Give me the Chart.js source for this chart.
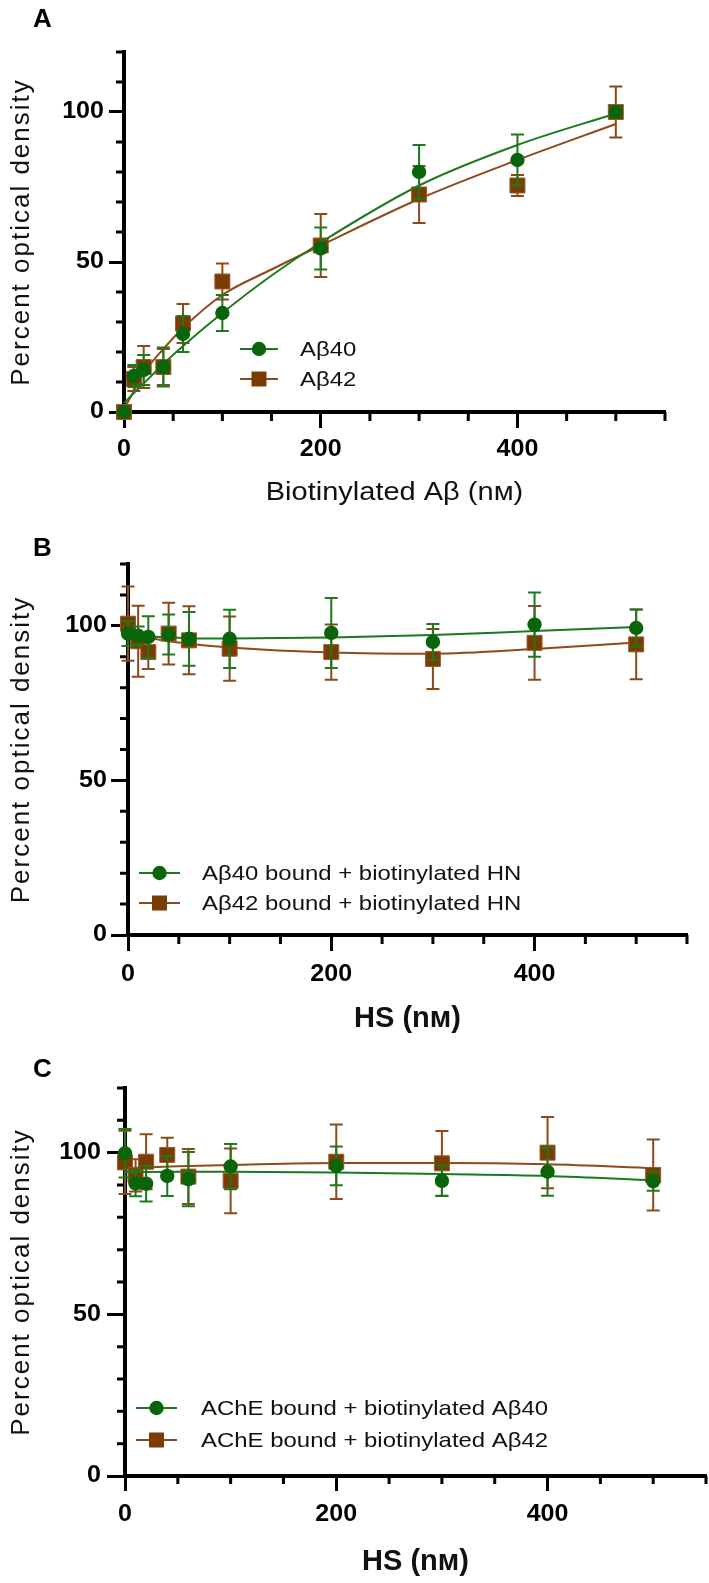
<!DOCTYPE html>
<html>
<head>
<meta charset="utf-8">
<script src="https://cdn.jsdelivr.net/npm/chart.js@4.4.1/dist/chart.umd.min.js"></script>
<style>
    html, body { margin: 0; padding: 0; background: #fff; }
    body { width: 709px; height: 1583px; position: relative; overflow: hidden; }
    .painel { position: absolute; left: 0; width: 709px; }
    canvas { display: block; }
</style>
</head>
<body>
<div class="painel" style="top:0"><canvas id="graficoA" width="709" height="520"></canvas></div>
<div class="painel" style="top:520px"><canvas id="graficoB" width="709" height="530"></canvas></div>
<div class="painel" style="top:1050px"><canvas id="graficoC" width="709" height="533"></canvas></div>
<script>
// ========== DADOS ==========
const concentracoes = [0, 10, 20, 40, 60, 100, 200, 300, 400, 500];

const ticksX = [0, 200, 400];
const ticksXMenores = [50, 100, 150, 250, 300, 350, 450, 500, 550];
const ticksY = [0, 50, 100];
const ticksYMenores = [10, 20, 30, 40, 60, 70, 80, 90, 110, 120];

// Painel A - ligação de Aβ biotinilado
const mediaA40 = [0, 12, 14, 15, 26, 33, 54.5, 80, 84, 100];
const erroA40  = [0, 3.7, 5, 6.5, 6, 6, 7, 9, 8.5, 1.5];
const mediaA42 = [0, 11, 15, 15, 29.5, 43.5, 55.5, 72.5, 75.5, 100];
const erroA42  = [2, 4, 7, 6, 6.5, 6, 10.5, 9.5, 3.5, 8.5];
const curvaAX   = [0, 10, 20, 40, 60, 100, 150, 200, 300, 400, 500];
const curvaA40  = [3, 6.3, 9.5, 16, 22, 33, 45.5, 56.5, 75.5, 89, 99.5];
const curvaA42  = [1, 7, 13, 21, 28, 39, 47.5, 55.5, 71, 84, 96];

// Painel B - Aβ ligado + HN biotinilado
const mediaB40 = [97.5, 96.8, 96.4, 97.2, 95.8, 95.8, 97.7, 94.8, 100.4, 99.3];
const erroB40  = [4, 3, 6.7, 6.5, 8.7, 9.4, 11.3, 5.8, 10.4, 6];
const mediaB42 = [100.7, 95, 91.5, 97.5, 95.3, 92.6, 91.5, 89.3, 94.5, 94];
const erroB42  = [12, 11.5, 5.5, 10, 11, 10.4, 8.9, 9.7, 11.9, 11.3];
const curvaBX   = [0, 10, 20, 40, 60, 100, 200, 300, 400, 500];
const curvaB40  = [98, 97.2, 96.6, 96.2, 96, 95.9, 96.2, 97, 98.3, 99.6];
const curvaB42  = [99.5, 97.6, 96.3, 95, 94.2, 93, 91.4, 91, 92.5, 94.6];

// Painel C - AChE ligada + Aβ biotinilado
const mediaC40 = [99.8, 90.5, 90.4, 92.8, 91.8, 95.7, 95.9, 91.3, 94.1, 91.2];
const erroC40  = [7.5, 4, 5.5, 6.2, 8.4, 7, 6, 4.7, 7.4, 3];
const mediaC42 = [97, 93, 97.2, 99.3, 92.6, 91.3, 97.2, 96.7, 100, 93.1];
const erroC42  = [9.8, 5, 8.5, 5.3, 8.5, 10, 11.5, 10, 11, 11];
const curvaCX   = [0, 50, 100, 200, 300, 400, 500];
const curvaC40  = [94, 94.1, 94.1, 93.9, 93.4, 92.8, 91.5];
const curvaC42  = [95.2, 95.8, 96.2, 96.8, 96.8, 96.4, 95.2];

// ===== CORES E FONTES =====
const VERDE = '#0a640a';
const VERDE_LINHA = '#1c7a1c';
const MARROM = '#7a3c00';
const MARROM_LINHA = '#8c4a1c';
const FONTE = "'Liberation Sans', Arial, Helvetica, sans-serif";

Chart.defaults.font.family = FONTE;
Chart.defaults.color = '#000';

function pontos(xs, ys) {
    return xs.map((x, i) => ({ x: x, y: ys[i] }));
}

// texto levemente alargado na horizontal, como na figura original
function escreverEsticado(ctx, texto, x, y, alinhamento, esc) {
    ctx.save();
    ctx.translate(x, y);
    ctx.scale(esc, 1);
    ctx.textAlign = alinhamento;
    ctx.fillText(texto, 0, 0);
    ctx.restore();
}

// ===== PLUGINS =====
// barras de erro desenhadas logo antes de cada conjunto de pontos
const pluginErros = {
    id: 'barrasErro',
    beforeDatasetDraw(chart, args) {
        const ds = chart.data.datasets[args.index];
        if (!ds.erros) return;
        const ctx = chart.ctx;
        const sx = chart.scales.x, sy = chart.scales.y;
        ctx.save();
        ctx.strokeStyle = ds.corErro;
        ctx.lineWidth = 2;
        ds.data.forEach((p, i) => {
            const e = ds.erros[i];
            if (!e) return;
            const px = sx.getPixelForValue(p.x);
            const topo = sy.getPixelForValue(p.y + e);
            const base = sy.getPixelForValue(p.y - e);
            ctx.beginPath();
            ctx.moveTo(px, topo); ctx.lineTo(px, base);
            ctx.moveTo(px - 6.5, topo); ctx.lineTo(px + 6.5, topo);
            ctx.moveTo(px - 6.5, base); ctx.lineTo(px + 6.5, base);
            ctx.stroke();
        });
        ctx.restore();
    }
};

function criarTicksMenores(cfg) {
    return {
        id: 'ticksMenores',
        beforeDatasetsDraw(chart) {
            const ctx = chart.ctx;
            const area = chart.chartArea;
            ctx.save();
            ctx.strokeStyle = '#000';
            ctx.lineWidth = 3;
            ctx.beginPath();
            ticksYMenores.forEach(v => {
                const py = chart.scales.y.getPixelForValue(v);
                ctx.moveTo(area.left, py);
                ctx.lineTo(area.left - cfg.menorY, py);
            });
            ticksXMenores.forEach(v => {
                const px = chart.scales.x.getPixelForValue(v);
                ctx.moveTo(px, area.bottom);
                ctx.lineTo(px, area.bottom + cfg.menorX);
            });
            ctx.stroke();
            ctx.restore();
        }
    };
}

// rótulos, títulos, legenda e letra do painel
function criarTextos(cfg) {
    return {
        id: 'textosPainel',
        afterDraw(chart) {
            const ctx = chart.ctx;
            const area = chart.chartArea;
            const sx = chart.scales.x, sy = chart.scales.y;
            ctx.save();
            ctx.textBaseline = 'middle';

            // rótulos dos ticks
            ctx.fillStyle = '#000';
            ctx.font = 'bold 23px ' + FONTE;
            ticksX.forEach(v => {
                escreverEsticado(ctx, String(v), sx.getPixelForValue(v), area.bottom + cfg.dyRotuloX, 'center', 1.09);
            });
            ticksY.forEach(v => {
                escreverEsticado(ctx, String(v), cfg.xRotuloY, sy.getPixelForValue(v), 'right', 1.09);
            });

            // título do eixo X
            ctx.fillStyle = '#111';
            ctx.font = cfg.fonteTituloX;
            escreverEsticado(ctx, cfg.tituloX, (area.left + area.right) / 2, cfg.yTituloX, 'center', cfg.escTituloX);

            // título do eixo Y
            ctx.save();
            ctx.translate(22, (area.top + area.bottom) / 2);
            ctx.rotate(-Math.PI / 2);
            ctx.font = '26px ' + FONTE;
            ctx.letterSpacing = '2px';
            ctx.textAlign = 'center';
            ctx.fillText('Percent optical density', 0, 0);
            ctx.restore();

            // legenda
            const leg = cfg.legenda;
            leg.itens.forEach((item, i) => {
                const yy = leg.linhas[i];
                const xm = (leg.x0 + leg.x1) / 2;
                ctx.strokeStyle = item.corLinha;
                ctx.lineWidth = 2;
                ctx.beginPath();
                ctx.moveTo(leg.x0, yy);
                ctx.lineTo(leg.x1, yy);
                ctx.stroke();
                ctx.fillStyle = item.cor;
                if (item.estilo === 'rect') {
                    ctx.fillRect(xm - 7.5, yy - 7.5, 15, 15);
                } else {
                    ctx.beginPath();
                    ctx.arc(xm, yy, 7.2, 0, Math.PI * 2);
                    ctx.fill();
                }
                ctx.fillStyle = '#111';
                ctx.font = '21px ' + FONTE;
                escreverEsticado(ctx, item.texto, leg.xTexto, yy + 1, 'left', 1.14);
            });

            // letra do painel
            ctx.fillStyle = '#000';
            ctx.font = 'bold 26px ' + FONTE;
            ctx.textAlign = 'left';
            ctx.textBaseline = 'alphabetic';
            ctx.fillText(cfg.letra, 33, cfg.yLetra);
            ctx.restore();
        }
    };
}

// ===== FUNÇÃO PARA CRIAR CADA PAINEL =====
function criarPainel(cfg) {
    const ctx = document.getElementById(cfg.canvas).getContext('2d');
    return new Chart(ctx, {
        type: 'scatter',
        data: {
            datasets: [
                {
                    label: cfg.nomes[0],
                    data: pontos(concentracoes, cfg.media40),
                    erros: cfg.erro40,
                    corErro: VERDE_LINHA,
                    showLine: false,
                    pointStyle: 'circle',
                    pointRadius: 7.2,
                    backgroundColor: VERDE,
                    borderColor: VERDE,
                    borderWidth: 0,
                    clip: false
                },
                {
                    label: cfg.nomes[0] + ' ajuste',
                    data: pontos(cfg.curvaX, cfg.curva40),
                    showLine: true,
                    pointRadius: 0,
                    borderColor: VERDE_LINHA,
                    borderWidth: 2,
                    cubicInterpolationMode: 'monotone',
                    fill: false,
                    clip: false
                },
                {
                    label: cfg.nomes[1],
                    data: pontos(concentracoes, cfg.media42),
                    erros: cfg.erro42,
                    corErro: MARROM_LINHA,
                    showLine: false,
                    pointStyle: 'rect',
                    pointRadius: 10.6,
                    backgroundColor: MARROM,
                    borderColor: '#9a5a2c',
                    borderWidth: 1,
                    clip: false
                },
                {
                    label: cfg.nomes[1] + ' ajuste',
                    data: pontos(cfg.curvaX, cfg.curva42),
                    showLine: true,
                    pointRadius: 0,
                    borderColor: MARROM_LINHA,
                    borderWidth: 2,
                    cubicInterpolationMode: 'monotone',
                    fill: false,
                    clip: false
                }
            ]
        },
        options: {
            responsive: false,
            animation: false,
            events: [],
            layout: {
                autoPadding: false,
                padding: { left: 0, right: cfg.direita, top: cfg.topo, bottom: 0 }
            },
            plugins: {
                legend: { display: false },
                tooltip: { enabled: false }
            },
            scales: {
                x: {
                    type: 'linear',
                    min: 0,
                    max: 550,
                    afterBuildTicks: s => { s.ticks = ticksX.map(v => ({ value: v })); },
                    afterFit: s => { s.height = cfg.altura - cfg.base; },
                    border: { display: true, width: 4, color: '#000' },
                    grid: { drawOnChartArea: false, drawTicks: true, tickLength: cfg.tlX, tickWidth: 3, tickColor: '#000' },
                    ticks: { display: false },
                    title: { display: false }
                },
                y: {
                    type: 'linear',
                    min: 0,
                    max: 120,
                    afterBuildTicks: s => { s.ticks = ticksY.map(v => ({ value: v })); },
                    afterFit: s => { s.width = cfg.esquerda; },
                    border: { display: true, width: 4, color: '#000' },
                    grid: { drawOnChartArea: false, drawTicks: true, tickLength: cfg.tlY, tickWidth: 3, tickColor: '#000' },
                    ticks: { display: false },
                    title: { display: false }
                }
            }
        },
        plugins: [pluginErros, criarTicksMenores(cfg), criarTextos(cfg)]
    });
}

criarPainel({
    canvas: 'graficoA', letra: 'A', yLetra: 27,
    altura: 520, esquerda: 124, direita: 44, topo: 52, base: 412,
    tlY: 15, tlX: 16, menorX: 9, menorY: 8,
    xRotuloY: 104, dyRotuloX: 38,
    tituloX: 'Biotinylated Aβ (nᴍ)', fonteTituloX: '25px ' + FONTE, escTituloX: 1.16, yTituloX: 493,
    nomes: ['Aβ40', 'Aβ42'],
    media40: mediaA40, erro40: erroA40, media42: mediaA42, erro42: erroA42,
    curvaX: curvaAX, curva40: curvaA40, curva42: curvaA42,
    legenda: {
        x0: 240, x1: 278, xTexto: 300, linhas: [349, 379],
        itens: [
            { texto: 'Aβ40', estilo: 'circle', cor: VERDE, corLinha: VERDE_LINHA },
            { texto: 'Aβ42', estilo: 'rect', cor: MARROM, corLinha: MARROM_LINHA }
        ]
    }
});

criarPainel({
    canvas: 'graficoB', letra: 'B', yLetra: 36,
    altura: 530, esquerda: 128, direita: 22, topo: 44, base: 415,
    tlY: 17, tlX: 16, menorX: 9, menorY: 8,
    xRotuloY: 107, dyRotuloX: 40,
    tituloX: 'HS (nᴍ)', fonteTituloX: 'bold 29px ' + FONTE, escTituloX: 1, yTituloX: 499,
    nomes: ['Aβ40 bound + biotinylated HN', 'Aβ42 bound + biotinylated HN'],
    media40: mediaB40, erro40: erroB40, media42: mediaB42, erro42: erroB42,
    curvaX: curvaBX, curva40: curvaB40, curva42: curvaB42,
    legenda: {
        x0: 139, x1: 180, xTexto: 202, linhas: [353, 383],
        itens: [
            { texto: 'Aβ40 bound + biotinylated HN', estilo: 'circle', cor: VERDE, corLinha: VERDE_LINHA },
            { texto: 'Aβ42 bound + biotinylated HN', estilo: 'rect', cor: MARROM, corLinha: MARROM_LINHA }
        ]
    }
});

criarPainel({
    canvas: 'graficoC', letra: 'C', yLetra: 27,
    altura: 533, esquerda: 125, direita: 3, topo: 38, base: 426,
    tlY: 18, tlX: 15, menorX: 8, menorY: 8,
    xRotuloY: 101, dyRotuloX: 39,
    tituloX: 'HS (nᴍ)', fonteTituloX: 'bold 29px ' + FONTE, escTituloX: 1, yTituloX: 512,
    nomes: ['AChE bound + biotinylated Aβ40', 'AChE bound + biotinylated Aβ42'],
    media40: mediaC40, erro40: erroC40, media42: mediaC42, erro42: erroC42,
    curvaX: curvaCX, curva40: curvaC40, curva42: curvaC42,
    legenda: {
        x0: 136, x1: 177, xTexto: 201, linhas: [358, 390],
        itens: [
            { texto: 'AChE bound + biotinylated Aβ40', estilo: 'circle', cor: VERDE, corLinha: VERDE_LINHA },
            { texto: 'AChE bound + biotinylated Aβ42', estilo: 'rect', cor: MARROM, corLinha: MARROM_LINHA }
        ]
    }
});
</script>
</body>
</html>
